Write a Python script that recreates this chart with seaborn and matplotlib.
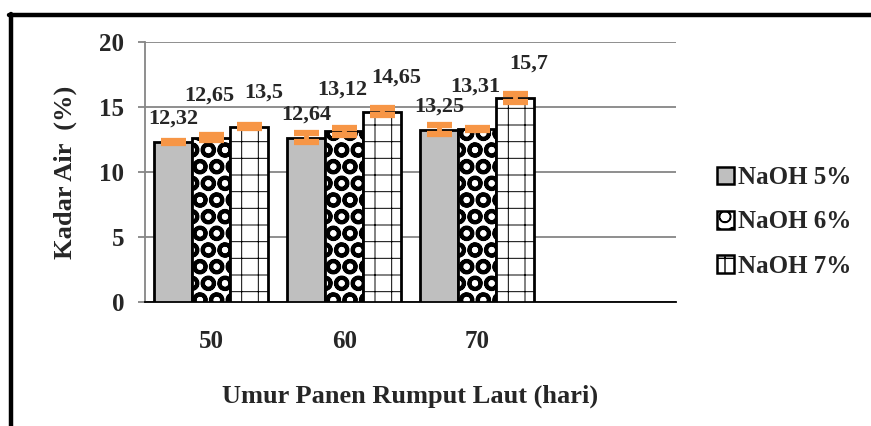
import numpy as np
import pandas as pd
import matplotlib
matplotlib.use('Agg')
import matplotlib.pyplot as plt
from matplotlib.lines import Line2D
from matplotlib.patches import Patch
import seaborn as sns

# data
umur = ['50', '60', '70']
naoh = ['NaOH 5%', 'NaOH 6%', 'NaOH 7%']
kadar_5 = [12.32, 12.64, 13.25]
kadar_6 = [12.65, 13.12, 13.31]
kadar_7 = [13.5, 14.65, 15.7]
err_5 = [0.1, 0.35, 0.35]
err_6 = [0.18, 0.25, 0.05]
err_7 = [0.08, 0.28, 0.28]

df = pd.DataFrame({
    'umur': umur * 3,
    'naoh': [n for n in naoh for _ in umur],
    'kadar': kadar_5 + kadar_6 + kadar_7,
    'err': err_5 + err_6 + err_7,
})

sns.set_style('white')
plt.rcParams['font.family'] = ['Liberation Serif', 'DejaVu Serif']
plt.rcParams['font.weight'] = 'bold'

W, H = 871, 426
fig = plt.figure(figsize=(W / 100, H / 100), dpi=100)
ax = fig.add_axes([145 / W, 1 - 302 / H, (676 - 145) / W, (302 - 42) / H])

face = ['#BFBFBF', 'white', 'white']
hatch = [None, 'O', '+']
hatch_lw = [1.0, 2.8, 0.7]

sns.barplot(data=df, x='umur', y='kadar', hue='naoh', order=umur, hue_order=naoh,
            palette=face, width=0.86, gap=0, errorbar=None,
            edgecolor='black', linewidth=2, legend=False, ax=ax, zorder=3)

# patterns, error bars and labels per series
label_dx = [0, -2, 14]
label_dy = [23, 42, 34]
bar_groups = list(ax.containers)
for i, cont in enumerate(bar_groups):
    sub = df[df['naoh'] == naoh[i]]
    xs, ys = [], []
    for bar in cont:
        bar.set_facecolor(face[i])
        bar.set_edgecolor('black')
        if hatch[i]:
            bar.set_hatch(hatch[i])
            if hasattr(bar, 'set_hatch_linewidth'):
                bar.set_hatch_linewidth(hatch_lw[i])
        xs.append(bar.get_x() + bar.get_width() / 2)
        ys.append(bar.get_height())
    ax.errorbar(xs, ys, yerr=sub['err'].values, fmt='none', ecolor='#F79646',
                elinewidth=3.5, capsize=9, capthick=4.5, zorder=5)
    for x, y in zip(xs, ys):
        ax.annotate(f'{y:g}'.replace('.', ','), (x, y),
                    xytext=(label_dx[i], label_dy[i]), textcoords='offset pixels',
                    ha='center', va='center', fontsize=16, fontweight='bold')

ax.set_xlim(-0.5, 3.5)
ax.set_ylim(0, 20)
ax.set_yticks([0, 5, 10, 15, 20])
ax.yaxis.grid(True, color='#868686', linewidth=1.3, zorder=0)
ax.set_axisbelow(True)
for s in ['top', 'right']:
    ax.spines[s].set_visible(False)
ax.spines['left'].set_color('#868686')
ax.spines['left'].set_linewidth(1.3)
ax.spines['bottom'].set_color('black')
ax.spines['bottom'].set_linewidth(1.3)
ax.tick_params(axis='y', length=5, color='#868686', width=1.3, pad=10, labelsize=18, left=True)
ax.tick_params(axis='x', length=0, pad=20, labelsize=18)

ax.set_xlabel('Umur Panen Rumput Laut (hari)', fontsize=19, fontweight='bold', labelpad=12)
ax.set_ylabel('Kadar Air  (%)', fontsize=19, fontweight='bold', labelpad=16)
ax.xaxis.set_label_coords((410 - 145) / (676 - 145), -(385 - 302) / (302 - 42))

handles = []
for i in range(3):
    p = Patch(facecolor=face[i], edgecolor='black', linewidth=1.8, hatch=hatch[i])
    handles.append(p)
fig.legend(handles, naoh, loc='center left', bbox_to_anchor=(694 / W, 1 - 222 / H),
           frameon=False, prop={'size': 18, 'weight': 'bold'},
           handlelength=0.7, handleheight=0.7, handletextpad=0.15, labelspacing=0.85)

# outer frame (left and top edges only)
fig.add_artist(Line2D([10.5 / W, 10.5 / W], [0, 1 - 14 / H], transform=fig.transFigure,
                      color='black', linewidth=3.2))
fig.add_artist(Line2D([9 / W, 1], [1 - 14.5 / H, 1 - 14.5 / H], transform=fig.transFigure,
                      color='black', linewidth=3.2))

fig.savefig('out.png', dpi=100)
